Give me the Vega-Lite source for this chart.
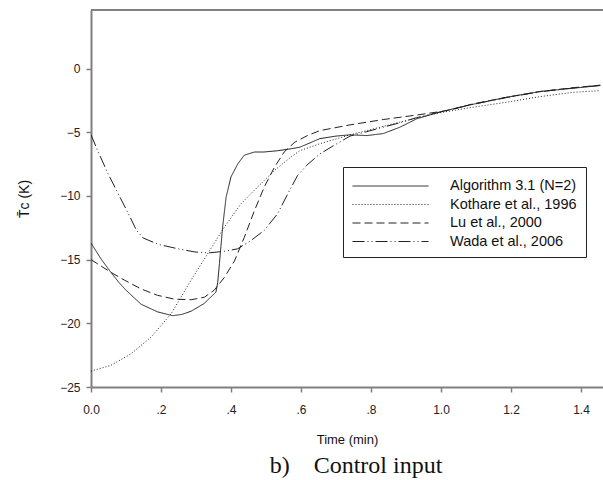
{
  "$schema": "https://vega.github.io/schema/vega-lite/v6.json",
  "autosize": "none",
  "padding": {"left": 91, "top": 10, "right": 0, "bottom": 93},
  "width": 512,
  "height": 377,
  "background": "white",
  "config": {
    "view": {"stroke": null},
    "font": "Liberation Sans",
    "axis": {
      "domainColor": "#808080",
      "domainWidth": 2,
      "tickColor": "#808080",
      "tickWidth": 1.5,
      "tickSize": 5,
      "grid": false,
      "labelFont": "Liberation Sans",
      "labelFontSize": 12,
      "labelColor": "#222222",
      "titleFont": "Liberation Sans",
      "titleFontSize": 13,
      "titleFontWeight": "normal",
      "titleColor": "#111111"
    }
  },
  "title": {
    "text": "b)\u00a0\u00a0\u00a0\u00a0Control input",
    "orient": "bottom",
    "anchor": "middle",
    "font": "Liberation Serif",
    "fontSize": 24,
    "fontWeight": "normal",
    "color": "#111111",
    "offset": 8,
    "dx": 9
  },
  "data": {
    "values": [
      {"series": "Algorithm 3.1 (N=2)", "t": 0, "v": -13.7},
      {"series": "Algorithm 3.1 (N=2)", "t": 0.03, "v": -15.0},
      {"series": "Algorithm 3.1 (N=2)", "t": 0.057, "v": -16.0},
      {"series": "Algorithm 3.1 (N=2)", "t": 0.08, "v": -16.8},
      {"series": "Algorithm 3.1 (N=2)", "t": 0.1, "v": -17.4},
      {"series": "Algorithm 3.1 (N=2)", "t": 0.143, "v": -18.5},
      {"series": "Algorithm 3.1 (N=2)", "t": 0.19, "v": -19.1},
      {"series": "Algorithm 3.1 (N=2)", "t": 0.233, "v": -19.4},
      {"series": "Algorithm 3.1 (N=2)", "t": 0.26, "v": -19.3},
      {"series": "Algorithm 3.1 (N=2)", "t": 0.286, "v": -19.05},
      {"series": "Algorithm 3.1 (N=2)", "t": 0.323, "v": -18.45},
      {"series": "Algorithm 3.1 (N=2)", "t": 0.357, "v": -17.55},
      {"series": "Algorithm 3.1 (N=2)", "t": 0.362, "v": -16.8},
      {"series": "Algorithm 3.1 (N=2)", "t": 0.367, "v": -15.3},
      {"series": "Algorithm 3.1 (N=2)", "t": 0.376, "v": -12.45},
      {"series": "Algorithm 3.1 (N=2)", "t": 0.386, "v": -10.1},
      {"series": "Algorithm 3.1 (N=2)", "t": 0.4, "v": -8.5},
      {"series": "Algorithm 3.1 (N=2)", "t": 0.419, "v": -7.5},
      {"series": "Algorithm 3.1 (N=2)", "t": 0.438, "v": -6.8},
      {"series": "Algorithm 3.1 (N=2)", "t": 0.467, "v": -6.55},
      {"series": "Algorithm 3.1 (N=2)", "t": 0.494, "v": -6.55},
      {"series": "Algorithm 3.1 (N=2)", "t": 0.533, "v": -6.45},
      {"series": "Algorithm 3.1 (N=2)", "t": 0.571, "v": -6.3},
      {"series": "Algorithm 3.1 (N=2)", "t": 0.597, "v": -6.17},
      {"series": "Algorithm 3.1 (N=2)", "t": 0.62, "v": -5.9},
      {"series": "Algorithm 3.1 (N=2)", "t": 0.654, "v": -5.5},
      {"series": "Algorithm 3.1 (N=2)", "t": 0.7, "v": -5.3},
      {"series": "Algorithm 3.1 (N=2)", "t": 0.74, "v": -5.2},
      {"series": "Algorithm 3.1 (N=2)", "t": 0.788, "v": -5.26},
      {"series": "Algorithm 3.1 (N=2)", "t": 0.835, "v": -5.1},
      {"series": "Algorithm 3.1 (N=2)", "t": 0.883, "v": -4.6},
      {"series": "Algorithm 3.1 (N=2)", "t": 0.93, "v": -3.95},
      {"series": "Algorithm 3.1 (N=2)", "t": 0.997, "v": -3.4},
      {"series": "Algorithm 3.1 (N=2)", "t": 1.092, "v": -2.8},
      {"series": "Algorithm 3.1 (N=2)", "t": 1.188, "v": -2.25},
      {"series": "Algorithm 3.1 (N=2)", "t": 1.283, "v": -1.8},
      {"series": "Algorithm 3.1 (N=2)", "t": 1.378, "v": -1.54},
      {"series": "Algorithm 3.1 (N=2)", "t": 1.455, "v": -1.33},

      {"series": "Kothare et al., 1996", "t": 0, "v": -23.75},
      {"series": "Kothare et al., 1996", "t": 0.057, "v": -23.3},
      {"series": "Kothare et al., 1996", "t": 0.114, "v": -22.4},
      {"series": "Kothare et al., 1996", "t": 0.171, "v": -21.1},
      {"series": "Kothare et al., 1996", "t": 0.229, "v": -19.25},
      {"series": "Kothare et al., 1996", "t": 0.286, "v": -16.6},
      {"series": "Kothare et al., 1996", "t": 0.333, "v": -14.55},
      {"series": "Kothare et al., 1996", "t": 0.381, "v": -12.45},
      {"series": "Kothare et al., 1996", "t": 0.429, "v": -10.6},
      {"series": "Kothare et al., 1996", "t": 0.476, "v": -9.3},
      {"series": "Kothare et al., 1996", "t": 0.524, "v": -8.0},
      {"series": "Kothare et al., 1996", "t": 0.571, "v": -6.95},
      {"series": "Kothare et al., 1996", "t": 0.597, "v": -6.44},
      {"series": "Kothare et al., 1996", "t": 0.654, "v": -5.9},
      {"series": "Kothare et al., 1996", "t": 0.74, "v": -5.2},
      {"series": "Kothare et al., 1996", "t": 0.788, "v": -4.87},
      {"series": "Kothare et al., 1996", "t": 0.883, "v": -4.2},
      {"series": "Kothare et al., 1996", "t": 0.959, "v": -3.7},
      {"series": "Kothare et al., 1996", "t": 1.0, "v": -3.45},
      {"series": "Kothare et al., 1996", "t": 1.092, "v": -3.03},
      {"series": "Kothare et al., 1996", "t": 1.188, "v": -2.64},
      {"series": "Kothare et al., 1996", "t": 1.283, "v": -2.2},
      {"series": "Kothare et al., 1996", "t": 1.378, "v": -1.86},
      {"series": "Kothare et al., 1996", "t": 1.455, "v": -1.73},

      {"series": "Lu et al., 2000", "t": 0, "v": -15.0},
      {"series": "Lu et al., 2000", "t": 0.057, "v": -16.0},
      {"series": "Lu et al., 2000", "t": 0.095, "v": -16.6},
      {"series": "Lu et al., 2000", "t": 0.143, "v": -17.3},
      {"series": "Lu et al., 2000", "t": 0.19, "v": -17.8},
      {"series": "Lu et al., 2000", "t": 0.238, "v": -18.1},
      {"series": "Lu et al., 2000", "t": 0.286, "v": -18.15},
      {"series": "Lu et al., 2000", "t": 0.324, "v": -17.95},
      {"series": "Lu et al., 2000", "t": 0.352, "v": -17.4},
      {"series": "Lu et al., 2000", "t": 0.381, "v": -16.4},
      {"series": "Lu et al., 2000", "t": 0.41, "v": -15.1},
      {"series": "Lu et al., 2000", "t": 0.438, "v": -13.25},
      {"series": "Lu et al., 2000", "t": 0.467, "v": -11.15},
      {"series": "Lu et al., 2000", "t": 0.495, "v": -9.3},
      {"series": "Lu et al., 2000", "t": 0.524, "v": -7.75},
      {"series": "Lu et al., 2000", "t": 0.552, "v": -6.55},
      {"series": "Lu et al., 2000", "t": 0.581, "v": -5.8},
      {"series": "Lu et al., 2000", "t": 0.619, "v": -5.25},
      {"series": "Lu et al., 2000", "t": 0.654, "v": -4.87},
      {"series": "Lu et al., 2000", "t": 0.74, "v": -4.42},
      {"series": "Lu et al., 2000", "t": 0.835, "v": -4.0},
      {"series": "Lu et al., 2000", "t": 0.93, "v": -3.65},
      {"series": "Lu et al., 2000", "t": 1.016, "v": -3.3},
      {"series": "Lu et al., 2000", "t": 1.092, "v": -2.77},
      {"series": "Lu et al., 2000", "t": 1.188, "v": -2.25},
      {"series": "Lu et al., 2000", "t": 1.283, "v": -1.8},
      {"series": "Lu et al., 2000", "t": 1.378, "v": -1.5},
      {"series": "Lu et al., 2000", "t": 1.455, "v": -1.3},

      {"series": "Wada et al., 2006", "t": 0, "v": -5.2},
      {"series": "Wada et al., 2006", "t": 0.021, "v": -6.57},
      {"series": "Wada et al., 2006", "t": 0.049, "v": -8.27},
      {"series": "Wada et al., 2006", "t": 0.078, "v": -9.84},
      {"series": "Wada et al., 2006", "t": 0.107, "v": -11.4},
      {"series": "Wada et al., 2006", "t": 0.13, "v": -12.7},
      {"series": "Wada et al., 2006", "t": 0.149, "v": -13.3},
      {"series": "Wada et al., 2006", "t": 0.192, "v": -13.8},
      {"series": "Wada et al., 2006", "t": 0.249, "v": -14.15},
      {"series": "Wada et al., 2006", "t": 0.297, "v": -14.4},
      {"series": "Wada et al., 2006", "t": 0.335, "v": -14.47},
      {"series": "Wada et al., 2006", "t": 0.381, "v": -14.35},
      {"series": "Wada et al., 2006", "t": 0.419, "v": -14.15},
      {"series": "Wada et al., 2006", "t": 0.457, "v": -13.5},
      {"series": "Wada et al., 2006", "t": 0.495, "v": -12.7},
      {"series": "Wada et al., 2006", "t": 0.533, "v": -11.4},
      {"series": "Wada et al., 2006", "t": 0.562, "v": -9.85},
      {"series": "Wada et al., 2006", "t": 0.59, "v": -8.4},
      {"series": "Wada et al., 2006", "t": 0.616, "v": -7.6},
      {"series": "Wada et al., 2006", "t": 0.654, "v": -6.7},
      {"series": "Wada et al., 2006", "t": 0.693, "v": -6.05},
      {"series": "Wada et al., 2006", "t": 0.74, "v": -5.3},
      {"series": "Wada et al., 2006", "t": 0.788, "v": -4.95},
      {"series": "Wada et al., 2006", "t": 0.835, "v": -4.6},
      {"series": "Wada et al., 2006", "t": 0.883, "v": -4.25},
      {"series": "Wada et al., 2006", "t": 0.93, "v": -3.85},
      {"series": "Wada et al., 2006", "t": 1.0, "v": -3.4},
      {"series": "Wada et al., 2006", "t": 1.092, "v": -2.8},
      {"series": "Wada et al., 2006", "t": 1.188, "v": -2.27},
      {"series": "Wada et al., 2006", "t": 1.283, "v": -1.82},
      {"series": "Wada et al., 2006", "t": 1.378, "v": -1.52},
      {"series": "Wada et al., 2006", "t": 1.455, "v": -1.32}
    ]
  },
  "layer": [
    {
      "mark": {"type": "rule", "color": "#808080", "strokeWidth": 2},
      "encoding": {"y": {"datum": 4.6, "type": "quantitative"}}
    },
    {
      "mark": {"type": "line", "color": "#222222", "strokeWidth": 1, "clip": true},
      "encoding": {
        "x": {
          "field": "t",
          "type": "quantitative",
          "scale": {"domain": [0, 1.4629], "nice": false, "zero": false},
          "axis": {
            "values": [0, 0.2, 0.4, 0.6, 0.8, 1.0, 1.2, 1.4],
            "labelExpr": "datum.value == 0 ? '0.0' : (datum.value < 0.99 ? replace(format(datum.value, '.1f'), '0.', '.') : format(datum.value, '.1f'))",
            "labelFlush": false,
            "title": "Time (min)",
            "titlePadding": 18,
            "labelPadding": 12
          }
        },
        "y": {
          "field": "v",
          "type": "quantitative",
          "scale": {"domain": [-25, 4.6], "nice": false, "zero": false},
          "axis": {
            "values": [-25, -20, -15, -10, -5, 0],
            "labelFlush": false,
            "title": "T̄c (K)",
            "titleFontSize": 14,
            "titlePadding": 28,
            "labelPadding": 6
          }
        },
        "strokeDash": {
          "field": "series",
          "type": "nominal",
          "scale": {
            "domain": ["Algorithm 3.1 (N=2)", "Kothare et al., 1996", "Lu et al., 2000", "Wada et al., 2006"],
            "range": [[1, 0], [1, 2], [8, 4], [12, 3, 1, 3, 1, 3]]
          },
          "legend": {
            "orient": "none",
            "legendX": 252,
            "legendY": 157,
            "title": null,
            "symbolType": "M-4,0H4",
            "symbolSize": 361,
            "symbolOffset": 28.5,
            "symbolStrokeWidth": 1,
            "symbolStrokeColor": "#222222",
            "labelFont": "Liberation Sans",
            "labelFontSize": 14.5,
            "labelColor": "#111111",
            "labelOffset": 49.5,
            "rowPadding": 1.5,
            "padding": 9,
            "strokeColor": "#222222",
            "fillColor": "white",
            "cornerRadius": 0
          }
        }
      }
    }
  ]
}
